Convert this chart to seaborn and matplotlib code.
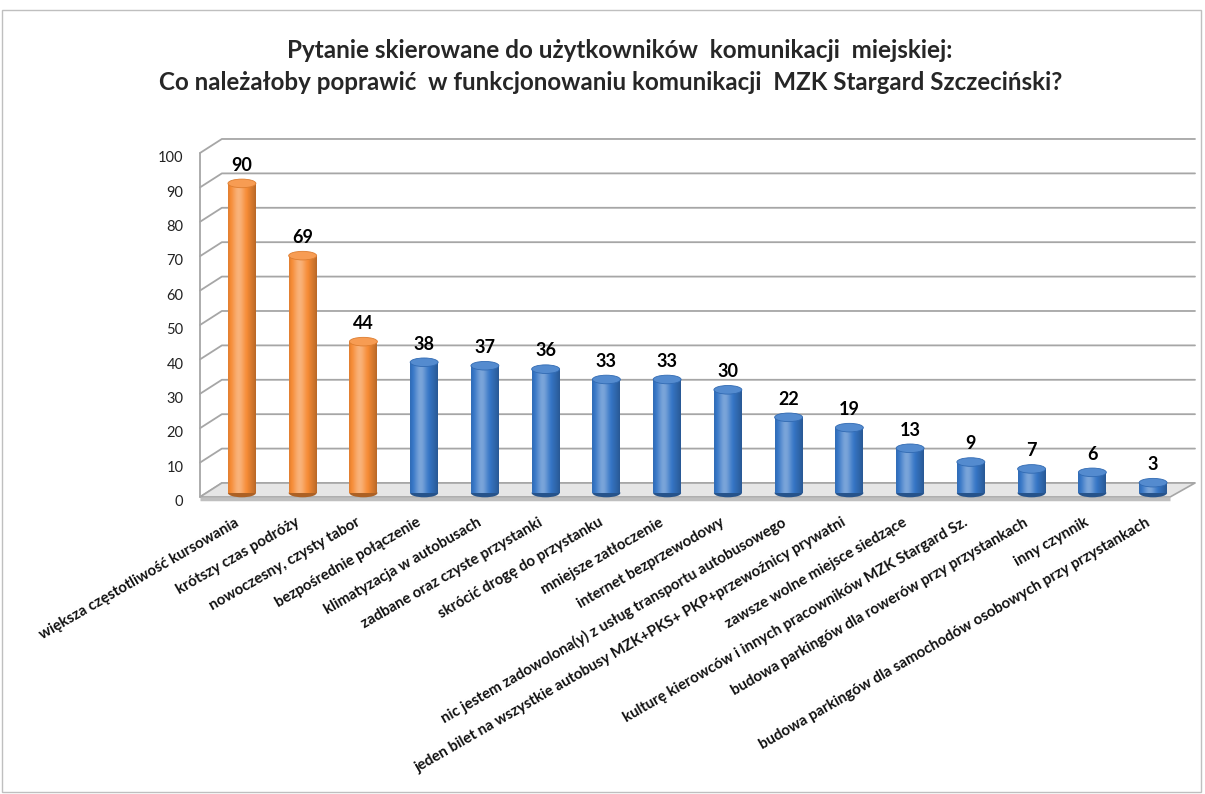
import numpy as np
import pandas as pd
import matplotlib
matplotlib.use("Agg")
import matplotlib.pyplot as plt
import matplotlib.colors as mcolors
from matplotlib.patches import Ellipse, Polygon, Rectangle
import seaborn as sns

# ---------------- data ----------------
categories = [
    "większa częstotliwość kursowania",
    "krótszy czas podróży",
    "nowoczesny, czysty tabor",
    "bezpośrednie połączenie",
    "klimatyzacja w autobusach",
    "zadbane oraz czyste przystanki",
    "skrócić drogę do przystanku",
    "mniejsze zatłoczenie",
    "internet bezprzewodowy",
    "nic jestem zadowolona(y) z usług transportu autobusowego",
    "jeden bilet na wszystkie autobusy MZK+PKS+ PKP+przewoźnicy prywatni",
    "zawsze wolne miejsce siedzące",
    "kulturę kierowców i innych pracowników MZK Stargard Sz.",
    "budowa parkingów dla rowerów przy przystankach",
    "inny czynnik",
    "budowa parkingów dla samochodów osobowych przy przystankach",
]
values = [90, 69, 44, 38, 37, 36, 33, 33, 30, 22, 19, 13, 9, 7, 6, 3]
groups = ["top", "top", "top", "rest", "rest", "rest", "rest", "rest",
          "rest", "rest", "rest", "rest", "rest", "rest", "rest", "rest"]
y_ticks = [0, 10, 20, 30, 40, 50, 60, 70, 80, 90, 100]
title_lines = [
    "Pytanie skierowane do użytkowników  komunikacji  miejskiej:",
    "Co należałoby poprawić  w funkcjonowaniu komunikacji  MZK Stargard Szczeciński?",
]

# ---------------- style ----------------
sns.set_style("white")
plt.rcParams["font.family"] = ["Lato", "DejaVu Sans"]

ORANGE = "#F68B35"
BLUE = "#3676C6"
palette = {"top": ORANGE, "rest": BLUE}

fig = plt.figure(figsize=(12.05, 7.94), dpi=100)
W, H = 1205, 794
PPU = 3.44          # pixels per value unit
ZERO_PX = 493.0     # pixel row of value 0 in the bar plane
XL = (-0.69, 15.69)
YL = (-2.5, 104)
bot_px = ZERO_PX - YL[0] * PPU
top_px = ZERO_PX - YL[1] * PPU
ax = fig.add_axes([200 / W, (H - bot_px) / H, 995 / W, (bot_px - top_px) / H])

df = pd.DataFrame({"kategoria": categories, "liczba": values, "grupa": groups})
sns.barplot(data=df, x="kategoria", y="liczba", hue="grupa", palette=palette,
            dodge=False, width=0.46, legend=False, ax=ax, zorder=3,
            saturation=1)

FRONT, BACK = -1.16, 2.91   # perspective planes (value units)
DX = 0.36

# back wall grid lines with perspective
for v in y_ticks:
    ax.plot([XL[0], XL[0] + DX, XL[1]], [v + FRONT, v + BACK, v + BACK],
            color="#A6A6A6", lw=1.3, zorder=1, clip_on=False)
# left axis line (front plane)
ax.plot([XL[0], XL[0]], [FRONT, 100 + FRONT], color="#A6A6A6", lw=1.3,
        zorder=1, clip_on=False)

# floor plate
floor_right = 15.28
floor = Polygon([[XL[0], FRONT], [floor_right, FRONT], [XL[1], BACK],
                 [XL[0] + DX, BACK]],
                closed=True, facecolor="#E6E6E6", edgecolor="#A6A6A6",
                lw=1.2, zorder=1.5)
ax.add_patch(floor)
ax.plot([XL[0], floor_right], [FRONT - 0.6, FRONT - 0.6], color="#BFBFBF",
        lw=2.5, zorder=1.6, solid_capstyle="butt")

# cylinders: gradient fill + elliptical caps
def shade(c, f):
    r, g, b = mcolors.to_rgb(c)
    if f >= 0:
        return (r + (1 - r) * f, g + (1 - g) * f, b + (1 - b) * f)
    return (r * (1 + f), g * (1 + f), b * (1 + f))

cap_h = 2.5
for patch in list(ax.patches):
    if not isinstance(patch, matplotlib.patches.Rectangle):
        continue
    h = patch.get_height()
    if h <= 0:
        continue
    x0 = patch.get_x()
    w = patch.get_width()
    base = patch.get_facecolor()
    xs = np.linspace(0, 1, 64)
    prof = 0.34 * np.exp(-((xs - 0.38) / 0.22) ** 2) - 0.35 * (np.abs(xs - 0.4) ** 2.2) * 2.2
    grad = np.array([[shade(base, p) for p in prof]])
    grad = np.clip(grad, 0, 1)
    patch.set_edgecolor("none")
    bot = Ellipse((x0 + w / 2, 0), w, cap_h, facecolor=shade(base, -0.3),
                  edgecolor="none", zorder=2.9)
    ax.add_patch(bot)
    im = ax.imshow(grad, extent=[x0, x0 + w, 0, h], aspect="auto",
                   zorder=3.1, interpolation="bilinear")
    im.set_clip_path(patch)
    top = Ellipse((x0 + w / 2, h), w, cap_h, facecolor=shade(base, 0.15),
                  edgecolor=shade(base, -0.1), lw=0.6, zorder=3.2)
    ax.add_patch(top)

# value labels
for cont in ax.containers:
    ax.bar_label(cont, fmt="%d", padding=7, fontsize=13, fontweight="bold",
                 color="black", zorder=5)

ax.set_xlim(*XL)
ax.set_ylim(*YL)
# y tick labels sit just below the front plane of the 3-D wall
TICK_DROP = -1.1
ax.set_yticks([v + FRONT + TICK_DROP for v in y_ticks],
              labels=[str(v) for v in y_ticks], fontsize=10.5, color="#222222")
ax.tick_params(axis="y", length=0, pad=12)
ax.tick_params(axis="x", length=0, pad=10)
LABEL_SHIFT = -0.13
ax.set_xticks([i + LABEL_SHIFT for i in range(len(categories))],
              labels=categories, rotation=30, ha="right", va="top",
              rotation_mode="anchor", fontsize=10.8, fontweight="bold",
              color="#111111")

ax.set_xlabel("")
ax.set_ylabel("")
for s in ["top", "right", "bottom", "left"]:
    ax.spines[s].set_visible(False)
ax.patch.set_alpha(0)

# title
fig.text(620 / W, 1 - 50 / H, title_lines[0], ha="center", va="center",
         fontsize=17.5, fontweight="bold")
fig.text(611 / W, 1 - 83 / H, title_lines[1], ha="center", va="center",
         fontsize=17.4, fontweight="bold")

# chart frame
fig.patches.append(Rectangle((2 / W, 2 / H), 1 - 6 / W, 1 - 12 / H,
                             transform=fig.transFigure, fill=False,
                             edgecolor="#BFBFBF", lw=1.0))

fig.savefig("out.png", dpi=100)
